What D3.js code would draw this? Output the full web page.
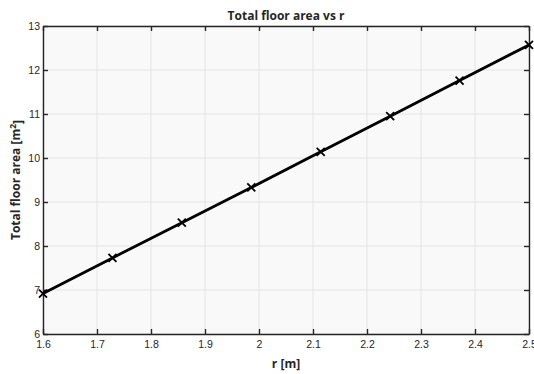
<!DOCTYPE html>
<html>
<head>
<meta charset="utf-8">
<script src="https://cdn.jsdelivr.net/npm/d3@7"></script>
<style>
  html, body { margin: 0; padding: 0; background: #fff; overflow: hidden; }
  svg { display: block; font-family: "Open Sans", "Noto Sans", sans-serif; }
</style>
</head>
<body>
<svg id="chart" width="534" height="374"></svg>
<script>
// Radius values and the resulting total floor area
const radius = [1.6, 1.7286, 1.8571, 1.9857, 2.1143, 2.2429, 2.3714, 2.5];
const floorArea = [6.92, 7.73, 8.53, 9.33, 10.14, 10.95, 11.76, 12.57];
const xTicks = [1.6, 1.7, 1.8, 1.9, 2.0, 2.1, 2.2, 2.3, 2.4, 2.5];
const yTicks = [6, 7, 8, 9, 10, 11, 12, 13];

const svg = d3.select("#chart");
const m = { left: 43, right: 529, top: 26, bottom: 334 };

const x = d3.scaleLinear().domain([1.6, 2.5]).range([m.left, m.right]);
const y = d3.scaleLinear().domain([6, 13]).range([m.bottom, m.top]);

// Plot background
svg.append("rect")
  .attr("x", m.left).attr("y", m.top)
  .attr("width", m.right - m.left).attr("height", m.bottom - m.top)
  .attr("fill", "#f9f9f9");

// Grid
const grid = svg.append("g").attr("stroke", "#e4e4e4").attr("stroke-width", 1);
grid.selectAll(".gx").data(xTicks).join("line")
  .attr("x1", d => x(d)).attr("x2", d => x(d))
  .attr("y1", m.top).attr("y2", m.bottom);
grid.selectAll(".gy").data(yTicks).join("line")
  .attr("x1", m.left).attr("x2", m.right)
  .attr("y1", d => y(d)).attr("y2", d => y(d));

const fmt = d => d3.format("")(+d.toFixed(2));

// Axes (ticks pointing inward)
const axisStyle = g => {
  g.selectAll(".domain").attr("stroke", "#262626").attr("stroke-width", 1.4);
  g.selectAll(".tick line").attr("stroke", "#262626").attr("stroke-width", 1.4);
  g.selectAll("text").attr("fill", "#262626").attr("font-size", 10.5);
};

svg.append("g").attr("transform", `translate(0,${m.bottom})`)
  .call(d3.axisBottom(x).tickValues(xTicks).tickFormat(fmt).tickSizeInner(-5).tickSizeOuter(0).tickPadding(7))
  .call(axisStyle);

svg.append("g").attr("transform", `translate(0,${m.top})`)
  .call(d3.axisTop(x).tickValues(xTicks).tickFormat("").tickSizeInner(-5).tickSizeOuter(0))
  .call(axisStyle);

svg.append("g").attr("transform", `translate(${m.left},0)`)
  .call(d3.axisLeft(y).tickValues(yTicks).tickFormat(fmt).tickSizeInner(-5).tickSizeOuter(0).tickPadding(3))
  .call(axisStyle);

svg.append("g").attr("transform", `translate(${m.right},0)`)
  .call(d3.axisRight(y).tickValues(yTicks).tickFormat("").tickSizeInner(-5).tickSizeOuter(0))
  .call(axisStyle);

// Data line
const pts = radius.map((r, i) => [r, floorArea[i]]);
svg.append("path")
  .datum(pts)
  .attr("fill", "none")
  .attr("stroke", "#000")
  .attr("stroke-width", 2.8)
  .attr("d", d3.line().x(d => x(d[0])).y(d => y(d[1])));

// Cross markers
const s = 4;
svg.append("g").selectAll("path").data(pts).join("path")
  .attr("d", d => {
    const cx = x(d[0]), cy = y(d[1]);
    return `M${cx - s},${cy - s}L${cx + s},${cy + s}M${cx - s},${cy + s}L${cx + s},${cy - s}`;
  })
  .attr("stroke", "#000").attr("stroke-width", 1.8);

// Titles
svg.append("text")
  .attr("x", (m.left + m.right) / 2).attr("y", 20)
  .attr("text-anchor", "middle").attr("font-size", 12).attr("font-weight", "bold")
  .attr("fill", "#262626")
  .text("Total floor area vs r");

svg.append("text")
  .attr("x", (m.left + m.right) / 2).attr("y", 368)
  .attr("text-anchor", "middle").attr("font-size", 12).attr("font-weight", "bold")
  .attr("fill", "#262626")
  .text("r [m]");

const yl = svg.append("text")
  .attr("transform", `translate(20,${(m.top + m.bottom) / 2}) rotate(-90)`)
  .attr("text-anchor", "middle").attr("font-size", 12).attr("font-weight", "bold")
  .attr("fill", "#262626");
yl.append("tspan").text("Total floor area [m");
yl.append("tspan").attr("dy", "-0.45em").attr("font-size", 8.5).text("2");
yl.append("tspan").attr("dy", "0.45em").text("]");
</script>
</body>
</html>
